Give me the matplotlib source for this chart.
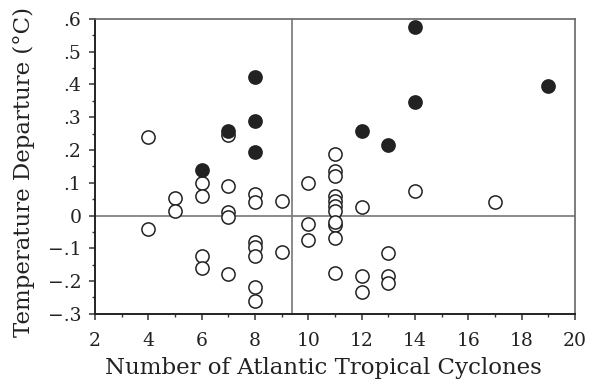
import matplotlib
matplotlib.use("Agg")
import matplotlib.pyplot as plt
from matplotlib.ticker import MultipleLocator, FuncFormatter

# Open circles
open_x = [4, 4, 5, 5, 6, 6, 6, 6, 7, 7, 7, 7, 7,
          8, 8, 8, 8, 8, 8, 8, 9, 9,
          10, 10, 10, 11, 11, 11, 11, 11, 11, 11, 11, 11, 11, 11,
          12, 12, 12, 13, 13, 13, 14, 17]
open_y = [0.24, -0.04, 0.055, 0.015, 0.10, 0.06, -0.125, -0.16, 0.245, 0.09, 0.01, -0.005, -0.178,
          0.065, 0.04, -0.08, -0.095, -0.125, -0.218, -0.26, 0.045, -0.11,
          0.098, -0.025, -0.075, 0.187, 0.135, 0.12, 0.059, 0.044, 0.029, 0.013, -0.028, -0.07, -0.176, -0.02,
          0.025, -0.184, -0.232, -0.113, -0.186, -0.207, 0.074, 0.04]
# Filled circles
fill_x = [6, 7, 8, 8, 8, 12, 13, 14, 14, 19]
fill_y = [0.138, 0.258, 0.424, 0.289, 0.193, 0.258, 0.215, 0.574, 0.347, 0.396]

mean_x = 9.4
xlabel = "Number of Atlantic Tropical Cyclones"
ylabel = "Temperature Departure (°C)"

plt.rcParams['font.family'] = ['DejaVu Serif']

fig = plt.figure(figsize=(5.91, 3.79), dpi=100)
ax = fig.add_axes([0.161, 0.172, 0.812, 0.778])

ax.axvline(mean_x, color='#777777', lw=1.2, zorder=1)
ax.axhline(0, color='#777777', lw=1.2, zorder=1)

ax.plot(open_x, open_y, linestyle='none', marker='o', ms=9.5, mfc='white',
        mec='#222222', mew=1.1, zorder=3)
ax.plot(fill_x, fill_y, linestyle='none', marker='o', ms=9.5, mfc='#222222',
        mec='#222222', mew=1.1, zorder=4)

ax.set_xlim(2, 20)
ax.set_ylim(-0.3, 0.6)
ax.xaxis.set_major_locator(MultipleLocator(2))
ax.xaxis.set_minor_locator(MultipleLocator(1))
ax.yaxis.set_major_locator(MultipleLocator(0.1))
ax.yaxis.set_minor_locator(MultipleLocator(0.05))

def yfmt(v, pos):
    r = round(v, 1)
    if abs(r) < 1e-9:
        return "0"
    s = f"{abs(r):.1f}".lstrip("0")
    return ("\u2212" + s) if r < 0 else s

ax.yaxis.set_major_formatter(FuncFormatter(yfmt))

for side in ['left', 'bottom']:
    ax.spines[side].set_color('#222222')
    ax.spines[side].set_linewidth(1.4)
for side in ['top', 'right']:
    ax.spines[side].set_color('#666666')
    ax.spines[side].set_linewidth(1.2)

ax.tick_params(which='major', direction='out', length=4, width=1.1, color='#333333',
               labelsize=13.5, labelcolor='#222222')
ax.tick_params(axis='x', which='major', pad=9)
ax.tick_params(axis='y', which='major', pad=6)
ax.tick_params(which='minor', direction='out', length=2.5, width=1.0, color='#333333')

ax.set_xlabel(xlabel, fontsize=16.5, color='#222222')
ax.set_ylabel(ylabel, fontsize=16.5, color='#222222')
ax.xaxis.set_label_coords(0.475, -0.145)
ax.yaxis.set_label_coords(-0.125, 0.48)

fig.savefig("out.png", dpi=100)
